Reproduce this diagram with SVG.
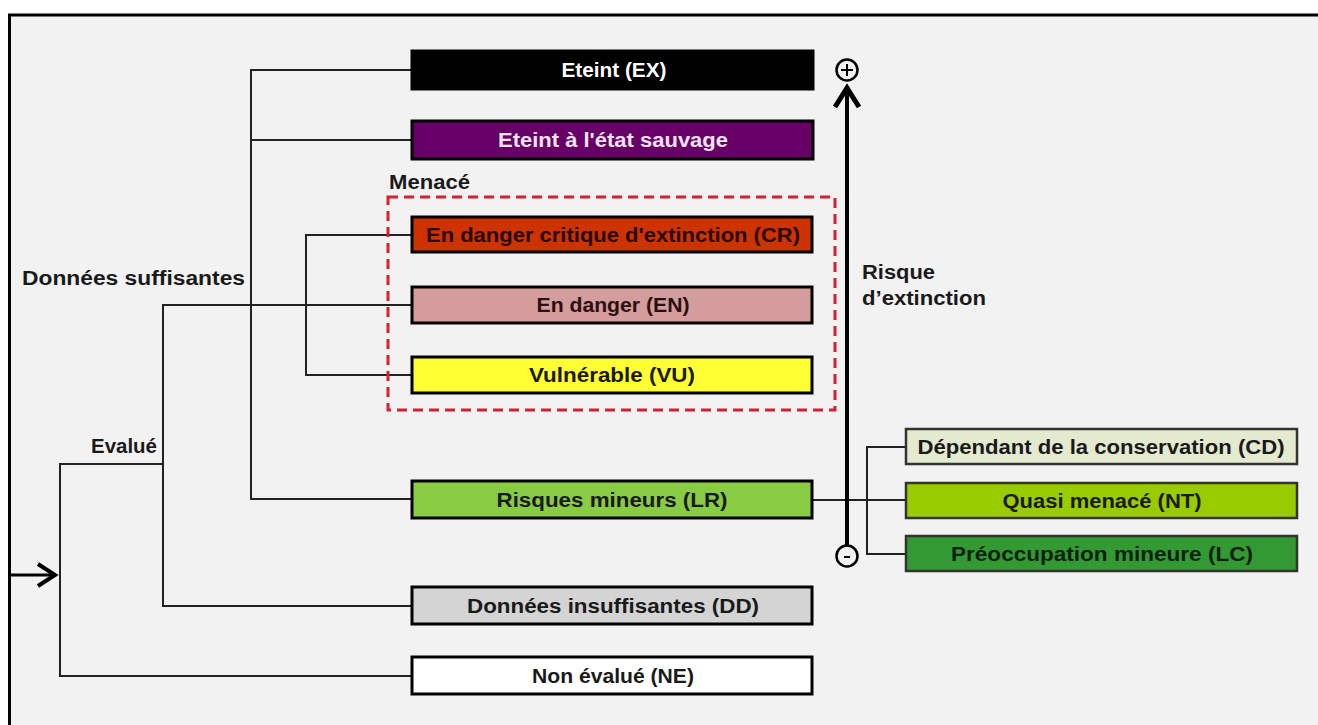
<svg xmlns="http://www.w3.org/2000/svg" width="1318" height="725" viewBox="0 0 1318 725">
<style>
.bg{fill:#f2f2f2;stroke:#000;stroke-width:3}
.box{stroke:#000;stroke-width:3}
.lbl{font-family:"Liberation Sans",Arial,sans-serif;font-weight:bold;font-size:20px;text-anchor:middle}
.txt{font-family:"Liberation Sans",Arial,sans-serif;font-weight:bold;font-size:20px;fill:#1a1a1a}
.con{fill:none;stroke:#222;stroke-width:2}
.axis{fill:none;stroke:#000;stroke-width:4}
</style>
<rect x="0" y="0" width="1318" height="725" fill="#ffffff"/>
<rect class="bg" x="9.5" y="15" width="1330" height="730"/>

<g id="connectors">
  <line class="con" x1="10" y1="575" x2="54" y2="575" style="stroke:#000;stroke-width:3"/>
  <polyline class="con" points="38,564 55,575 38,586" style="stroke:#000;stroke-width:4"/>
  <polyline class="con" points="163,464 60,464 60,676 412,676"/>
  <polyline class="con" points="412,305 163,305 163,606 412,606"/>
  <polyline class="con" points="412,70 251,70 251,499 412,499"/>
  <line class="con" x1="251" y1="140" x2="412" y2="140"/>
  <polyline class="con" points="412,235 306,235 306,375 412,375"/>
  <line class="con" x1="812" y1="500" x2="906" y2="500"/>
  <polyline class="con" points="906,447 867,447 867,554 906,554"/>
</g>

<g id="axis">
  <line class="axis" x1="847" y1="545" x2="847" y2="89"/>
  <polyline class="axis" points="835,107 847,88 859,107" style="stroke-width:5"/>
  <circle cx="847" cy="70" r="10.5" fill="none" stroke="#000" stroke-width="2.5"/>
  <line x1="841" y1="70" x2="853" y2="70" stroke="#000" stroke-width="2"/>
  <line x1="847" y1="64" x2="847" y2="76" stroke="#000" stroke-width="2"/>
  <circle cx="847" cy="556" r="10.5" fill="none" stroke="#000" stroke-width="2.5"/>
  <line x1="844" y1="557" x2="850" y2="557" stroke="#000" stroke-width="2"/>
  <text class="txt" x="862" y="279" textLength="73" lengthAdjust="spacingAndGlyphs">Risque</text>
  <text class="txt" x="862" y="305" textLength="124" lengthAdjust="spacingAndGlyphs">d’extinction</text>
</g>

<g id="menace">
  <rect x="388" y="197" width="447" height="213" fill="none" stroke="#d42030" stroke-width="3" stroke-dasharray="10,6"/>
  <text class="txt" x="389" y="189" textLength="81" lengthAdjust="spacingAndGlyphs">Menacé</text>
</g>

<g id="label-suffisantes">
  <text class="txt" x="22" y="285" textLength="223" lengthAdjust="spacingAndGlyphs">Données suffisantes</text>
</g>
<g id="label-evalue">
  <text class="txt" x="91" y="453" textLength="66" lengthAdjust="spacingAndGlyphs">Evalué</text>
</g>

<g id="EX">
  <rect class="box" x="412" y="51" width="401" height="38" fill="#000000"/>
  <text class="lbl" x="614" y="77" fill="#ffffff" textLength="105" lengthAdjust="spacingAndGlyphs">Eteint (EX)</text>
</g>
<g id="EW">
  <rect class="box" x="412" y="121" width="401" height="38" fill="#660066"/>
  <text class="lbl" x="613" y="147" fill="#f6e2f6" textLength="230" lengthAdjust="spacingAndGlyphs">Eteint à l'état sauvage</text>
</g>
<g id="CR">
  <rect class="box" x="412" y="217" width="400" height="35" fill="#cc3300"/>
  <text class="lbl" x="613" y="242" fill="#2a0800" textLength="374" lengthAdjust="spacingAndGlyphs">En danger critique d'extinction (CR)</text>
</g>
<g id="EN">
  <rect class="box" x="412" y="287" width="400" height="36" fill="#d49c9c"/>
  <text class="lbl" x="613" y="312" fill="#2a1010" textLength="153" lengthAdjust="spacingAndGlyphs">En danger (EN)</text>
</g>
<g id="VU">
  <rect class="box" x="412" y="357" width="400" height="36" fill="#ffff33"/>
  <text class="lbl" x="612" y="382" fill="#1a1a00" textLength="166" lengthAdjust="spacingAndGlyphs">Vulnérable (VU)</text>
</g>
<g id="LR">
  <rect class="box" x="412" y="481" width="400" height="37" fill="#88cc44"/>
  <text class="lbl" x="612" y="507" fill="#1a1a1a" textLength="231" lengthAdjust="spacingAndGlyphs">Risques mineurs (LR)</text>
</g>
<g id="DD">
  <rect class="box" x="412" y="587" width="400" height="37" fill="#d4d4d4"/>
  <text class="lbl" x="613" y="613" fill="#1a1a1a" textLength="292" lengthAdjust="spacingAndGlyphs">Données insuffisantes (DD)</text>
</g>
<g id="NE">
  <rect class="box" x="412" y="657" width="400" height="37" fill="#ffffff"/>
  <text class="lbl" x="613" y="683" fill="#1a1a1a" textLength="162" lengthAdjust="spacingAndGlyphs">Non évalué (NE)</text>
</g>
<g id="CD">
  <rect class="box" x="906" y="429" width="391" height="35" fill="#e4eacf" style="stroke:#333;stroke-width:2.5"/>
  <text class="lbl" x="1101" y="454" fill="#1a1a1a" textLength="367" lengthAdjust="spacingAndGlyphs">Dépendant de la conservation (CD)</text>
</g>
<g id="NT">
  <rect class="box" x="906" y="483" width="391" height="35" fill="#99cc00" style="stroke:#333;stroke-width:2.5"/>
  <text class="lbl" x="1102" y="508" fill="#1a1a1a" textLength="199" lengthAdjust="spacingAndGlyphs">Quasi menacé (NT)</text>
</g>
<g id="LC">
  <rect class="box" x="906" y="536" width="391" height="35" fill="#339933" style="stroke:#333;stroke-width:2.5"/>
  <text class="lbl" x="1102" y="561" fill="#0f1f0f" textLength="302" lengthAdjust="spacingAndGlyphs">Préoccupation mineure (LC)</text>
</g>
</svg>
